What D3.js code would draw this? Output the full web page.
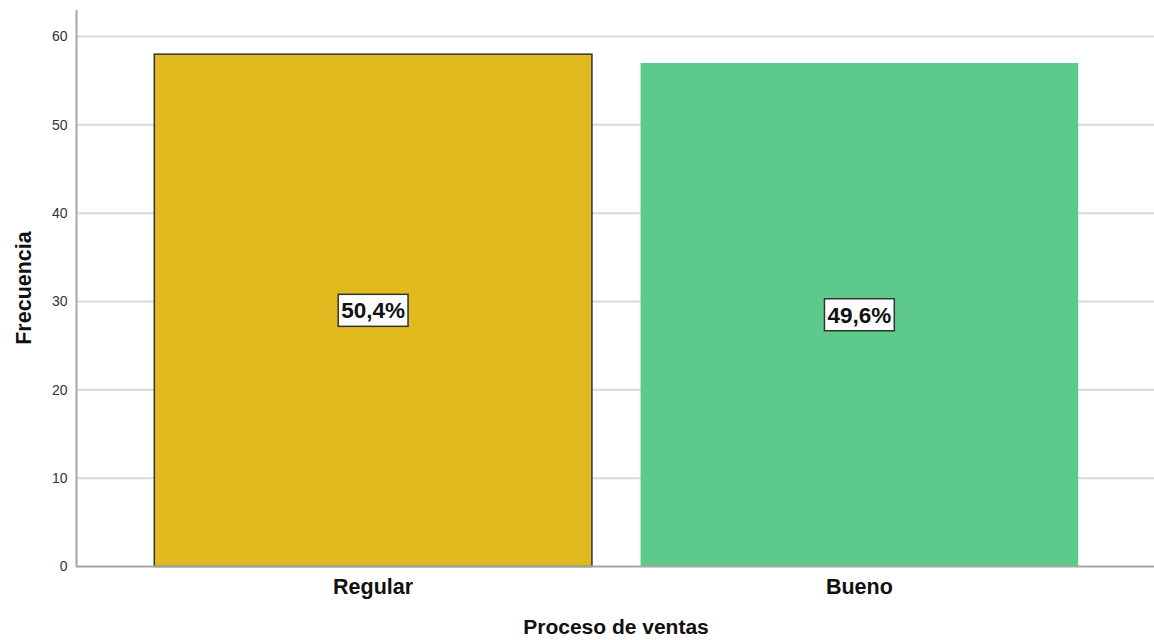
<!DOCTYPE html>
<html><head><meta charset="utf-8">
<script src="https://cdn.jsdelivr.net/npm/d3@7"></script>
<style>body{margin:0;background:#fff}svg{display:block}</style>
</head><body>
<svg id="c" width="1154" height="640"></svg>
<script>
const categories = ["Regular", "Bueno"];
const frequencies = [58, 57];
const percentLabels = ["50,4%", "49,6%"];
const yTicks = [0, 10, 20, 30, 40, 50, 60];
const barColors = ["#E0BA1E", "#5DC98B"];
const barStrokes = ["#333333", "none"];

const svg = d3.select("#c");
const font = "'Liberation Sans', Arial, sans-serif";
const x = d3.scaleBand().domain(categories).range([76.5, 1156]).paddingInner(0.1).paddingOuter(0.16);
const y = d3.scaleLinear().domain([0, 63]).range([566.5, 10]);

// gridlines
svg.append("g").selectAll("line").data(yTicks.filter(d => d > 0)).join("line")
  .attr("x1", 77).attr("x2", 1154)
  .attr("y1", d => y(d)).attr("y2", d => y(d))
  .attr("stroke", "#d9d9d9").attr("stroke-width", 2);

// bars
svg.append("g").selectAll("rect").data(categories).join("rect")
  .attr("x", d => x(d)).attr("width", x.bandwidth())
  .attr("y", (d, i) => y(frequencies[i]))
  .attr("height", (d, i) => y(0) - y(frequencies[i]))
  .attr("fill", (d, i) => barColors[i])
  .attr("stroke", (d, i) => barStrokes[i]).attr("stroke-width", 1.5);

// axes
const yAxis = svg.append("g").attr("transform", "translate(76.5,0)")
  .call(d3.axisLeft(y).tickValues(yTicks).tickSize(0).tickPadding(9));
yAxis.select(".domain").remove();
yAxis.selectAll("text").attr("font-family", font).attr("font-size", 14).attr("fill", "#333");
svg.append("line").attr("x1", 76.5).attr("x2", 76.5).attr("y1", 10).attr("y2", 567)
  .attr("stroke", "#a6a6a6").attr("stroke-width", 2);

const xAxis = svg.append("g").attr("transform", "translate(0,566.5)")
  .call(d3.axisBottom(x).tickSize(0).tickPadding(12));
xAxis.select(".domain").remove();
xAxis.selectAll("text").attr("font-family", font).attr("font-size", 21.5).attr("font-weight", "bold").attr("fill", "#111");
svg.append("line").attr("x1", 76).attr("x2", 1154).attr("y1", 566.5).attr("y2", 566.5)
  .attr("stroke", "#a6a6a6").attr("stroke-width", 2);

// axis titles
svg.append("text").attr("x", 616).attr("y", 634).attr("text-anchor", "middle")
  .attr("font-family", font).attr("font-size", 21).attr("font-weight", "bold").attr("fill", "#111")
  .text("Proceso de ventas");
svg.append("text").attr("transform", "translate(31,288) rotate(-90)").attr("text-anchor", "middle")
  .attr("font-family", font).attr("font-size", 21.5).attr("font-weight", "bold").attr("fill", "#111")
  .text("Frecuencia");

// percent labels
const lbl = svg.append("g").selectAll("g").data(categories).join("g")
  .attr("transform", (d, i) => `translate(${x(d) + x.bandwidth() / 2},${(y(frequencies[i]) + y(0)) / 2})`);
lbl.append("rect").attr("fill", "#fff").attr("stroke", "#333").attr("stroke-width", 1.5);
lbl.append("text").attr("text-anchor", "middle").attr("dy", "0.36em")
  .attr("font-family", font).attr("font-size", 22.5).attr("font-weight", "bold").attr("fill", "#111")
  .text((d, i) => percentLabels[i]);
lbl.each(function() {
  const g = d3.select(this);
  const b = g.select("text").node().getBBox();
  g.select("rect").attr("x", b.x - 3).attr("y", -16).attr("width", b.width + 6).attr("height", 32);
});
</script>
</body></html>
